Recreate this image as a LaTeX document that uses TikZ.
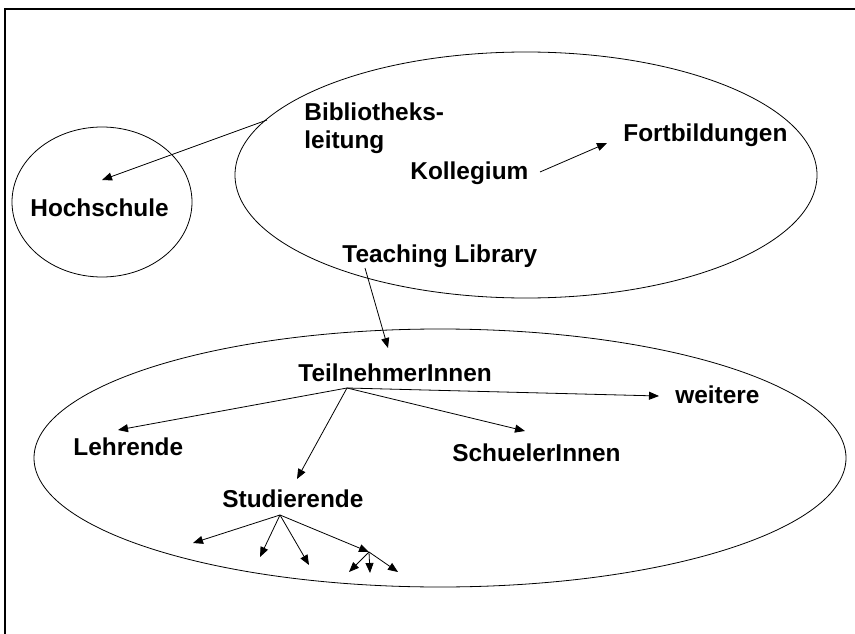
\documentclass[tikz,border=0pt]{standalone}
\usepackage{fontspec}
\setmainfont{Liberation Sans}
\usetikzlibrary{arrows.meta,shapes.geometric}

\begin{document}
\begin{tikzpicture}[x=1pt,y=-1pt,line width=0.8pt,
    >={Triangle[length=10pt,width=8pt]},
    txt/.style={anchor=base west,inner sep=0pt,font=\bfseries\fontsize{24.4}{28}\selectfont},
    area/.style={draw,ellipse,inner sep=0pt}]
   \useasboundingbox (0,0) rectangle (855,634);
   \draw[line width=2.5pt] (5,634) -- (5,9) -- (855,9);
   % the three areas
   \node[area,minimum width=180pt,minimum height=150pt] (hs) at (102,202) {};
   \node[area,minimum width=582pt,minimum height=246pt] (bib) at (526,175) {};
   \node[area,minimum width=812pt,minimum height=258pt] (tn) at (440,458) {};
   % labels
   \node[txt] (hoch) at (30,216) {Hochschule};
   \node[txt,anchor=north west,align=left] (leit) at (304,102) {Bibliotheks-\\leitung};
   \node[txt] (koll) at (410,179) {Kollegium};
   \node[txt] (fort) at (623,142) {Fortbildungen};
   \node[txt] (tl) at (342,262) {Teaching Library};
   \node[txt] (teil) at (298,381) {TeilnehmerInnen};
   \node[txt] (weit) at (675,403) {weitere};
   \node[txt] (lehr) at (73,455) {Lehrende};
   \node[txt] (schu) at (452,461) {SchuelerInnen};
   \node[txt] (stud) at (222,507) {Studierende};
   % ends of the arrows
   \coordinate (hs-out) at (267,120);
   \coordinate (hs-in) at (102,180);
   \coordinate (koll-out) at (540,172);
   \coordinate (fort-in) at (607,143);
   \coordinate (tl-out) at (365,268);
   \coordinate (teil-in) at (388,348);
   \coordinate (teil-j) at (347,388);
   \coordinate (lehr-in) at (118,430);
   \coordinate (stud-in) at (297,479);
   \coordinate (schu-in) at (525,431);
   \coordinate (weit-in) at (659,396);
   \coordinate (stud-j) at (280,515);
   \coordinate (s1) at (193,543);
   \coordinate (s2) at (260,557);
   \coordinate (s3) at (309,565);
   \coordinate (s4) at (369,552);
   \coordinate (t1) at (349,572);
   \coordinate (t2) at (370,573);
   \coordinate (t3) at (398,572);
    \path[->]
    (hs-out) edge (hs-in)
    (koll-out) edge (fort-in)
    (tl-out) edge (teil-in)
    (teil-j) edge (lehr-in)
             edge (stud-in)
             edge (schu-in)
             edge (weit-in)
    (stud-j) edge (s1)
             edge (s2)
             edge (s3)
             edge (s4)
    (s4) edge (t1)
         edge (t2)
         edge (t3);
\end{tikzpicture}
\end{document}
